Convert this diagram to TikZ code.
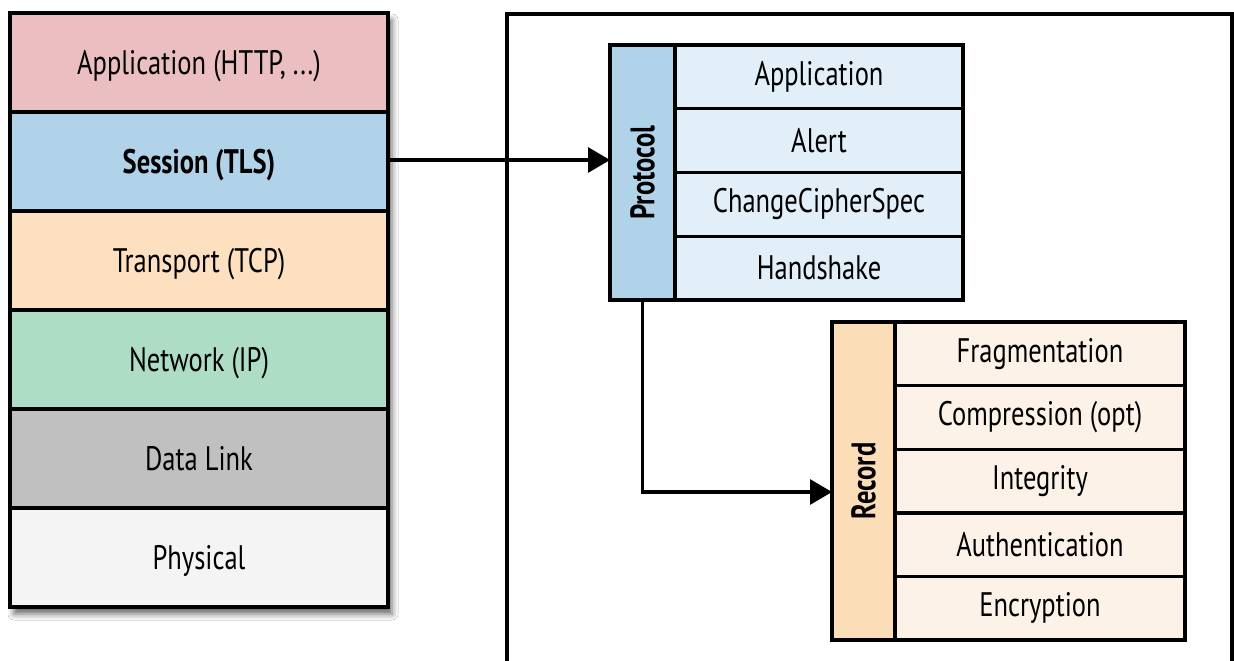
\documentclass[tikz,border=0pt]{standalone}
\usepackage{fontspec}
\setmainfont{PT Sans}[FakeStretch=0.78]
\usetikzlibrary{arrows.meta,shadows.blur}
\definecolor{appC}{RGB}{235,190,193}
\definecolor{sesC}{RGB}{177,211,234}
\definecolor{traC}{RGB}{253,224,192}
\definecolor{netC}{RGB}{174,221,198}
\definecolor{dlC}{RGB}{192,192,192}
\definecolor{phyC}{RGB}{244,244,244}
\definecolor{protoHead}{RGB}{177,211,234}
\definecolor{protoRow}{RGB}{226,239,248}
\definecolor{recHead}{RGB}{251,221,184}
\definecolor{recRow}{RGB}{253,242,231}
\begin{document}
\begin{tikzpicture}[x=1pt,y=-1pt,
  cell/.style={draw=black,line width=3.4pt,inner sep=0pt,outer sep=0pt,anchor=north west,
    font=\fontsize{34}{38}\selectfont},
  layer/.style={cell,minimum width=378pt,minimum height=99pt,text depth=0pt},
  prow/.style={cell,fill=protoRow,minimum width=288pt,minimum height=63.75pt},
  rrow/.style={cell,fill=recRow,minimum width=290pt,minimum height=63.6pt},
  head/.style={cell},
  vlab/.style={rotate=90,font=\fontsize{34}{38}\selectfont\bfseries},
  conn/.style={draw=black,line width=3.2pt,-{Triangle[length=22pt,width=25pt,fill=black]}}]
\useasboundingbox[fill=white] (0,0) rectangle (1234,661);
% outer frame
\draw[line width=3.4pt] (507,661) -- (507,14) -- (1232,14) -- (1232,661);
% shadow of the stack
\fill[white,blur shadow={shadow xshift=4pt,shadow yshift=-7pt,shadow blur radius=6pt,shadow opacity=60}]
  (10,13) rectangle (388,607);
% OSI stack
\node[layer,fill=appC] (app) at (10,13) {Application (HTTP, ...)};
\node[layer,fill=sesC,font=\fontsize{34}{38}\selectfont\bfseries] (ses) at (10,112) {Session (TLS)};
\node[layer,fill=traC] (tra) at (10,211) {Transport (TCP)};
\node[layer,fill=netC] (net) at (10,310) {Network (IP)};
\node[layer,fill=dlC] (dl) at (10,409) {Data Link};
\node[layer,fill=phyC] (phy) at (10,508) {Physical};
% Protocol block
\node[head,fill=protoHead,minimum width=65pt,minimum height=255pt] (pcol) at (610,45) {};
\node[vlab] (plab) at (pcol.center) {Protocol};
\node[prow] (p1) at (675,45) {Application};
\node[prow] (p2) at (675,108.75) {Alert};
\node[prow] (p3) at (675,172.5) {ChangeCipherSpec};
\node[prow] (p4) at (675,236.25) {Handshake};
% Record block
\node[head,fill=recHead,minimum width=63pt,minimum height=318pt] (rcol) at (832,322) {};
\node[vlab] (rlab) at (rcol.center) {Record};
\node[rrow] (r1) at (895,322) {Fragmentation};
\node[rrow] (r2) at (895,385.6) {Compression (opt)};
\node[rrow] (r3) at (895,449.2) {Integrity};
\node[rrow] (r4) at (895,512.8) {Authentication};
\node[rrow] (r5) at (895,576.4) {Encryption};
% connectors
\draw[conn] (ses.east |- 0,160) -- (pcol.west |- 0,160);
\draw[conn] (pcol.south) |- ([yshift=-11pt]rcol.west);
\end{tikzpicture}
\end{document}
